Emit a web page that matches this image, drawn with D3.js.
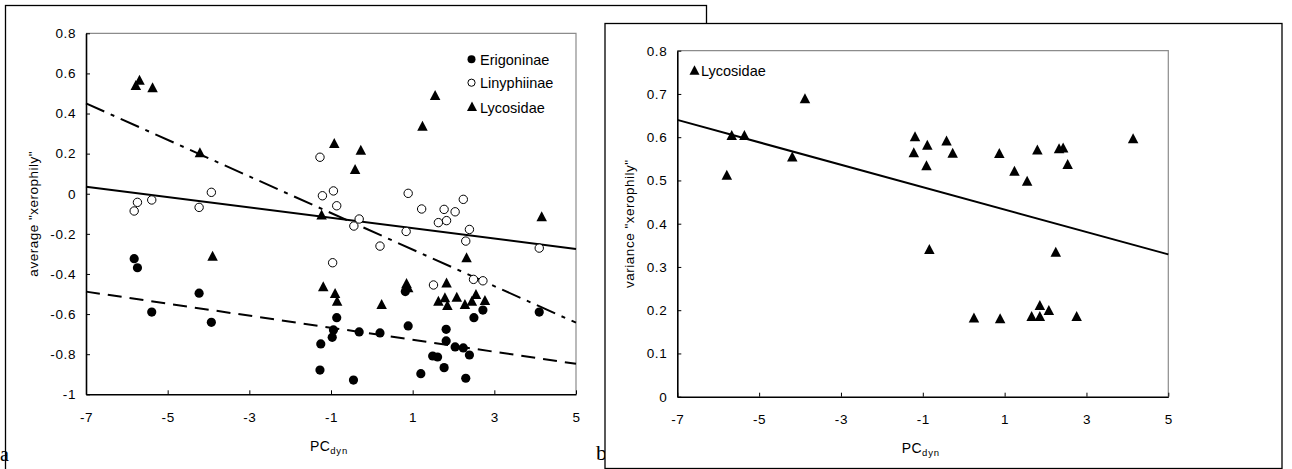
<!DOCTYPE html>
<html>
<head>
<meta charset="utf-8">
<script src="https://cdn.jsdelivr.net/npm/d3@7"></script>
<style>
  html, body { margin: 0; padding: 0; background: #fff; }
  svg { display: block; }
  text { font-family: "Liberation Sans", Arial, sans-serif; fill: #000; }
</style>
</head>
<body>
<svg id="chart" width="1292" height="469"></svg>
<script>
// ---------- data ----------
const xTicks = [-7, -5, -3, -1, 1, 3, 5];
const yTicksA = [0.8, 0.6, 0.4, 0.2, 0, -0.2, -0.4, -0.6, -0.8, -1];
const yTicksB = [0, 0.1, 0.2, 0.3, 0.4, 0.5, 0.6, 0.7, 0.8];
const seriesNames = ["Erigoninae", "Linyphiinae", "Lycosidae"];

const erigX = [-5.82, -5.74, -5.39, -4.23, -3.93, -1.27, -1.25, -0.97, -0.94, -0.86, -0.45, -0.31, 0.20, 0.82, 0.89, 1.20, 1.49, 1.61, 1.77, 1.82, 1.82, 2.04, 2.24, 2.39, 2.30, 2.50, 2.72, 4.10];
const erigY = [-0.324, -0.369, -0.59, -0.496, -0.641, -0.879, -0.749, -0.716, -0.679, -0.618, -0.929, -0.689, -0.694, -0.488, -0.659, -0.897, -0.809, -0.814, -0.867, -0.676, -0.734, -0.764, -0.769, -0.804, -0.92, -0.618, -0.58, -0.59];

const linyX = [-5.82, -5.74, -5.39, -4.23, -3.93, -1.27, -1.21, -0.94, -0.86, -0.31, -0.44, 0.84, 0.89, 1.22, 1.77, 2.04, 2.24, 1.63, 1.83, 2.39, 2.30, 0.20, -0.96, 1.51, 2.49, 2.72, 4.10];
const linyY = [-0.086, -0.043, -0.031, -0.068, 0.007, 0.182, -0.01, 0.014, -0.06, -0.126, -0.161, -0.188, 0.002, -0.076, -0.078, -0.09, -0.028, -0.144, -0.134, -0.178, -0.236, -0.261, -0.344, -0.455, -0.427, -0.434, -0.271];

const lycoX = [-5.78, -5.69, -5.37, -4.21, -3.90, -1.23, -1.19, -0.92, -0.90, -0.85, -0.41, -0.27, 0.24, 0.85, 0.89, 1.24, 1.55, 1.63, 1.79, 1.83, 1.85, 2.08, 2.28, 2.32, 2.45, 2.55, 2.77, 4.16];
const lycoY = [0.537, 0.564, 0.526, 0.202, -0.314, -0.109, -0.466, 0.248, -0.50, -0.538, 0.118, 0.215, -0.555, -0.45, -0.471, 0.334, 0.487, -0.538, -0.521, -0.447, -0.56, -0.518, -0.555, -0.322, -0.538, -0.505, -0.535, -0.117];

// regression lines (endpoints)
const fitX = [-7, 5];
const fitErig = [-0.488, -0.848];
const fitLiny = [0.035, -0.275];
const fitLyco = [0.451, -0.643];

const varX = [-5.79, -5.67, -5.36, -4.19, -3.88, -1.19, -1.22, -0.89, -0.91, -0.42, -0.27, 0.87, 1.24, 1.55, 1.80, 2.33, 2.43, 2.54, 4.14, -0.84, 2.25, 0.25, 0.89, 1.66, 1.86, 1.86, 2.08, 2.76];
const varY = [0.511, 0.603, 0.603, 0.553, 0.688, 0.600, 0.563, 0.580, 0.533, 0.590, 0.562, 0.561, 0.520, 0.497, 0.569, 0.572, 0.574, 0.536, 0.595, 0.339, 0.333, 0.181, 0.179, 0.184, 0.184, 0.210, 0.198, 0.184];
const fitVar = [0.640, 0.329];

// ---------- drawing ----------
const svg = d3.select("#chart");
const fmt = d => String(+d.toFixed(1)); // plain hyphen minus like the original

function triPath(cx, cy, w, h) {
  return `M${cx},${cy - h * 0.6}L${cx + w / 2},${cy + h * 0.4}L${cx - w / 2},${cy + h * 0.4}Z`;
}

function drawPanel(g, opt) {
  const x = d3.scaleLinear().domain([-7, 5]).range([opt.left, opt.right]);
  const y = d3.scaleLinear().domain(opt.yDomain).range([opt.bottom, opt.top]);

  // plot area border (grey top/right)
  g.append("path")
    .attr("d", `M${opt.left},${opt.top}H${opt.right}V${opt.bottom}`)
    .attr("fill", "none").attr("stroke", "#8c8c8c").attr("stroke-width", 1.2);

  const yAxis = d3.axisLeft(y).tickValues(opt.yTicks).tickSizeInner(-4).tickSizeOuter(0)
    .tickPadding(10).tickFormat(fmt);
  const gy = g.append("g").attr("transform", `translate(${opt.left},0)`).call(yAxis);
  const xAxis = d3.axisBottom(x).tickValues(xTicks).tickSizeInner(-4).tickSizeOuter(0)
    .tickPadding(18).tickFormat(fmt);
  const gx = g.append("g").attr("transform", `translate(0,${opt.bottom})`).call(xAxis);
  [gx, gy].forEach(a => {
    a.select(".domain").attr("stroke", "#000").attr("stroke-width", 1.6);
    a.selectAll(".tick line").attr("stroke", "#000").attr("stroke-width", 1);
    a.selectAll(".tick text").style("font-family", "Liberation Sans, Arial, sans-serif")
      .style("font-size", "13.5px").attr("letter-spacing", "0.6px").attr("fill", "#000");
  });

  // axis titles
  const cy = (opt.top + opt.bottom) / 2;
  g.append("text").attr("transform", `translate(${opt.yTitleX},${cy}) rotate(-90)`)
    .attr("text-anchor", "middle").style("font-size", "13.5px").attr("letter-spacing", "0.5px")
    .text(opt.yTitle);
  const cx = (opt.left + opt.right) / 2;
  const xt = g.append("text").attr("x", cx - 21).attr("y", opt.xTitleY).style("font-size", "14px")
    .attr("letter-spacing", "0.4px");
  xt.append("tspan").text("PC");
  xt.append("tspan").attr("dy", 3).style("font-size", "9.5px").attr("letter-spacing", "0.8px").text("dyn");

  return { x, y };
}

// panel a frame
svg.append("rect").attr("x", 5.5).attr("y", 5.5).attr("width", 701).attr("height", 480)
  .attr("fill", "#fff").attr("stroke", "#000").attr("stroke-width", 1.3);
svg.append("text").attr("x", 0).attr("y", 461).style("font-family", "Liberation Serif, Times New Roman, serif")
  .style("font-size", "20px").text("a");

const A = drawPanel(svg.append("g"), {
  left: 86, right: 576, top: 33.3, bottom: 394.3, yDomain: [-1, 0.8], yTicks: yTicksA,
  yTitle: "average \"xerophily\"", yTitleX: 38, xTitleY: 451
});

const lineA = d3.line().x(d => A.x(d[0])).y(d => A.y(d[1]));
svg.append("path").attr("d", lineA(d3.zip(fitX, fitErig)))
  .attr("fill", "none").attr("stroke", "#000").attr("stroke-width", 2).attr("stroke-dasharray", "14,8");
svg.append("path").attr("d", lineA(d3.zip(fitX, fitLiny)))
  .attr("fill", "none").attr("stroke", "#000").attr("stroke-width", 2);
svg.append("path").attr("d", lineA(d3.zip(fitX, fitLyco)))
  .attr("fill", "none").attr("stroke", "#000").attr("stroke-width", 2).attr("stroke-dasharray", "20,7,4,7");

svg.append("g").selectAll("circle").data(d3.zip(erigX, erigY)).join("circle")
  .attr("cx", d => A.x(d[0])).attr("cy", d => A.y(d[1])).attr("r", 4.6).attr("fill", "#000");
svg.append("g").selectAll("circle").data(d3.zip(linyX, linyY)).join("circle")
  .attr("cx", d => A.x(d[0])).attr("cy", d => A.y(d[1])).attr("r", 4.2)
  .attr("fill", "#fff").attr("stroke", "#000").attr("stroke-width", 1);
svg.append("g").selectAll("path").data(d3.zip(lycoX, lycoY)).join("path")
  .attr("d", d => triPath(A.x(d[0]), A.y(d[1]), 10.5, 10)).attr("fill", "#000");

// legend a
const legA = svg.append("g");
const legY = [59.3, 82.7, 107.3];
legA.append("circle").attr("cx", 471.5).attr("cy", legY[0]).attr("r", 4).attr("fill", "#000");
legA.append("circle").attr("cx", 471.5).attr("cy", legY[1]).attr("r", 3.6).attr("fill", "#fff").attr("stroke", "#000");
legA.append("path").attr("d", triPath(472, legY[2], 10, 9.5)).attr("fill", "#000");
seriesNames.forEach((n, i) => {
  legA.append("text").attr("x", 480).attr("y", legY[i] + 5.3).style("font-size", "14.5px").text(n);
});

// "b" label (partly hidden under panel b)
svg.append("text").attr("x", 596).attr("y", 460).style("font-family", "Liberation Serif, Times New Roman, serif")
  .style("font-size", "22px").text("b");

// panel b frame
svg.append("rect").attr("x", 605).attr("y", 23.5).attr("width", 677).attr("height", 445)
  .attr("fill", "#fff").attr("stroke", "#000").attr("stroke-width", 1.3);

const B = drawPanel(svg.append("g"), {
  left: 677.3, right: 1168.3, top: 50.7, bottom: 396.7, yDomain: [0, 0.8], yTicks: yTicksB,
  yTitle: "variance \"xerophily\"", yTitleX: 634, xTitleY: 453
});

const lineB = d3.line().x(d => B.x(d[0])).y(d => B.y(d[1]));
svg.append("path").attr("d", lineB(d3.zip(fitX, fitVar)))
  .attr("fill", "none").attr("stroke", "#000").attr("stroke-width", 2);
svg.append("g").selectAll("path").data(d3.zip(varX, varY)).join("path")
  .attr("d", d => triPath(B.x(d[0]), B.y(d[1]), 10.5, 10)).attr("fill", "#000");

// legend b
svg.append("path").attr("d", triPath(694.5, 71, 10, 9.5)).attr("fill", "#000");
svg.append("text").attr("x", 701).attr("y", 76.3).style("font-size", "14.5px").text(seriesNames[2]);
</script>
</body>
</html>
